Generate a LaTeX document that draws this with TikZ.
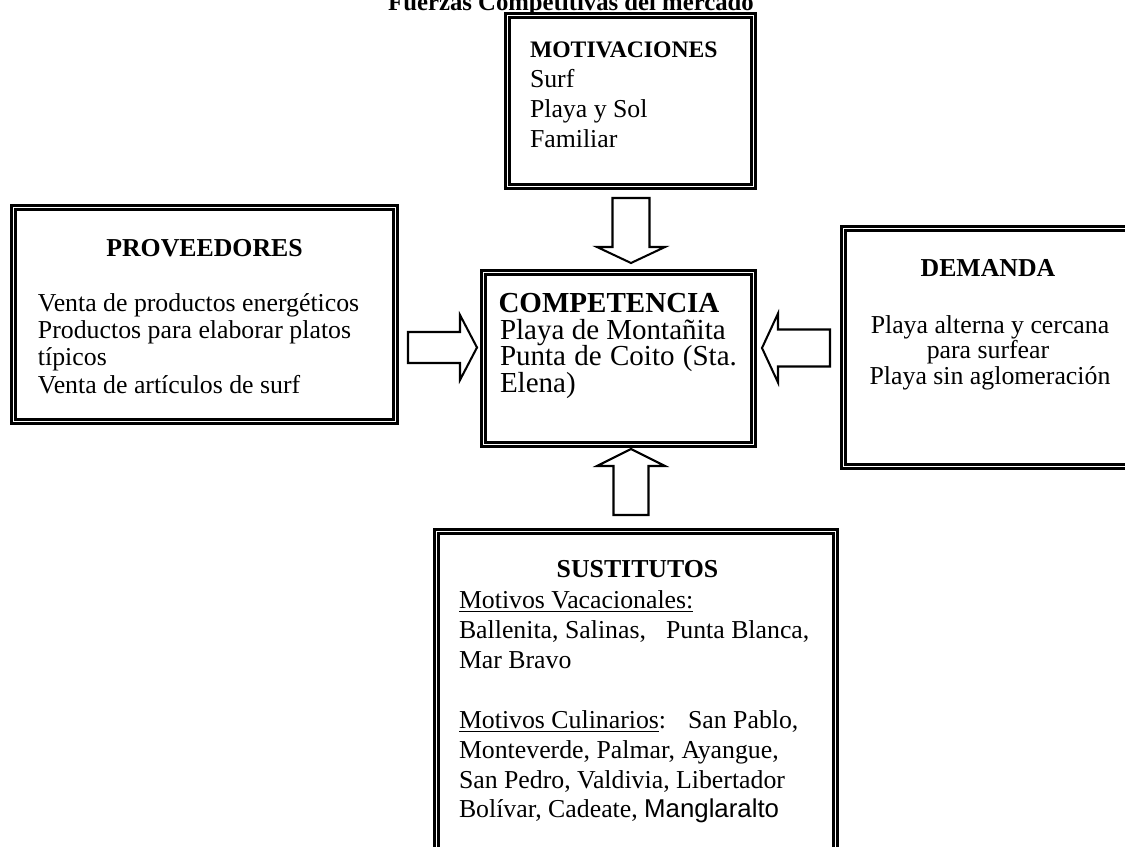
\documentclass[tikz,border=0pt]{standalone}
\usepackage{fontspec}
\setmainfont{Liberation Serif}
\newfontfamily\arialfont{Liberation Sans}
\usetikzlibrary{calc}
\newcommand\pxu{0.4651pt}

\tikzset{
  % box with a double rule; #1 x #2 = size of the rule's centre line
  boxframe/.style 2 args={draw=black, double=white, line width=1.2pt,
    double distance=0.85pt, inner sep=0pt, outer sep=0pt,
    minimum width=#1*\pxu, minimum height=#2*\pxu},
  arrline/.style={draw=black, fill=white, line width=0.95pt, line join=miter},
  % hollow block arrow pointing along +x: length / shaft / head width / head length
  pics/barrow/.style args={#1/#2/#3/#4}{code={
    \draw[arrline] (0,-#2/2) -- (#1-#4,-#2/2) -- (#1-#4,-#3/2) -- (#1,0)
      -- (#1-#4,#3/2) -- (#1-#4,#2/2) -- (0,#2/2) -- cycle;}},
  txtline/.style={inner sep=0pt, outer sep=0pt, anchor=base west,
    font=\fontsize{12}{14}\selectfont},
  txthead/.style={inner sep=0pt, outer sep=0pt, anchor=base,
    font=\fontsize{12}{14}\selectfont\bfseries},
  txtmid/.style={txthead, font=\fontsize{12}{14}\selectfont},
  bigline/.style={txtline, font=\fontsize{13.5}{15}\selectfont},
}

\begin{document}
\begin{tikzpicture}[x=0.4651pt, y=-0.4651pt]
\useasboundingbox (0,0) rectangle (1125,847);

% title
\node[txthead, font=\fontsize{11.5}{14}\selectfont\bfseries] (title) at (571,11)
  {Fuerzas Competitivas del mercado};

% boxes
\node[boxframe={246}{171}] (mot)  at (630.5,101) {};
\node[boxframe={382}{214}] (prov) at (204.5,314.5) {};
\node[boxframe={270}{172}] (comp) at (618.5,358.5) {};
\node[boxframe={287}{238}] (dem)  at (987,347.5) {};
\node[boxframe={399}{345}] (sust) at (636,704) {};

% arrows towards the centre box
\pic[rotate=-90] (arrT) at ($(mot.south)+(0.5,11.5)$)   {barrow=65/37/68/16};
\pic[rotate=90]  (arrB) at ($(sust.north)+(-5,-16.5)$)  {barrow=66/35/68/17};
\pic             (arrL) at ($(prov.east)+(12.5,33)$)    {barrow=69/31/65/17};
\pic[rotate=180] (arrR) at ($(dem.west)+(-13.5,0.5)$)   {barrow=68/37/69/16};

% MOTIVACIONES
\node[txtline, font=\fontsize{11}{13}\selectfont\bfseries] (m0) at (530,58) {MOTIVACIONES};
\node[txtline] (m1) at (530,88)  {Surf};
\node[txtline] (m2) at (530,118) {Playa y Sol};
\node[txtline] (m3) at (530,148) {Familiar};

% PROVEEDORES
\node[txthead] (p0) at (204.5,257) {PROVEEDORES};
\node[txtline] (p1) at (38,312) {Venta de productos energéticos};
\node[txtline] (p2) at (38,339) {Productos para elaborar platos};
\node[txtline] (p3) at (38,366) {típicos};
\node[txtline] (p4) at (38,393) {Venta de artículos de surf};

% COMPETENCIA
\node[txthead, font=\fontsize{13.5}{15}\selectfont\bfseries] (c0) at (609,313) {COMPETENCIA};
\node[bigline] (c1) at (500,340) {Playa de Montañita};
\node[bigline] (c2) at (500,366) {\makebox[110.2pt][s]{Punta de Coito (Sta.}};
\node[bigline] (c3) at (500,392) {Elena)};

% DEMANDA
\node[txthead] (d0) at (988,277) {DEMANDA};
\node[txtmid] (d1) at (990,333) {Playa alterna y cercana};
\node[txtmid] (d2) at (988,359) {para surfear};
\node[txtmid] (d3) at (990,385) {Playa sin aglomeración};

% SUSTITUTOS
\node[txthead] (s0) at (637.5,577) {SUSTITUTOS};
\node[txtline] (s1) at (459,608) {\underline{Motivos Vacacionales:}};
\node[txtline] (s2) at (459,638) {Ballenita, Salinas,\hspace{9.3pt}Punta Blanca,};
\node[txtline] (s3) at (459,668) {Mar Bravo};
\node[txtline] (s4) at (459,728) {\underline{Motivos Culinarios}:\hspace{10.2pt}San Pablo,};
\node[txtline] (s5) at (459,758) {Monteverde, Palmar, Ayangue,};
\node[txtline] (s6) at (459,788) {San Pedro, Valdivia, Libertador};
\node[txtline] (s7) at (459,817) {Bolívar, Cadeate, {\arialfont Manglaralto}};
\end{tikzpicture}
\end{document}
